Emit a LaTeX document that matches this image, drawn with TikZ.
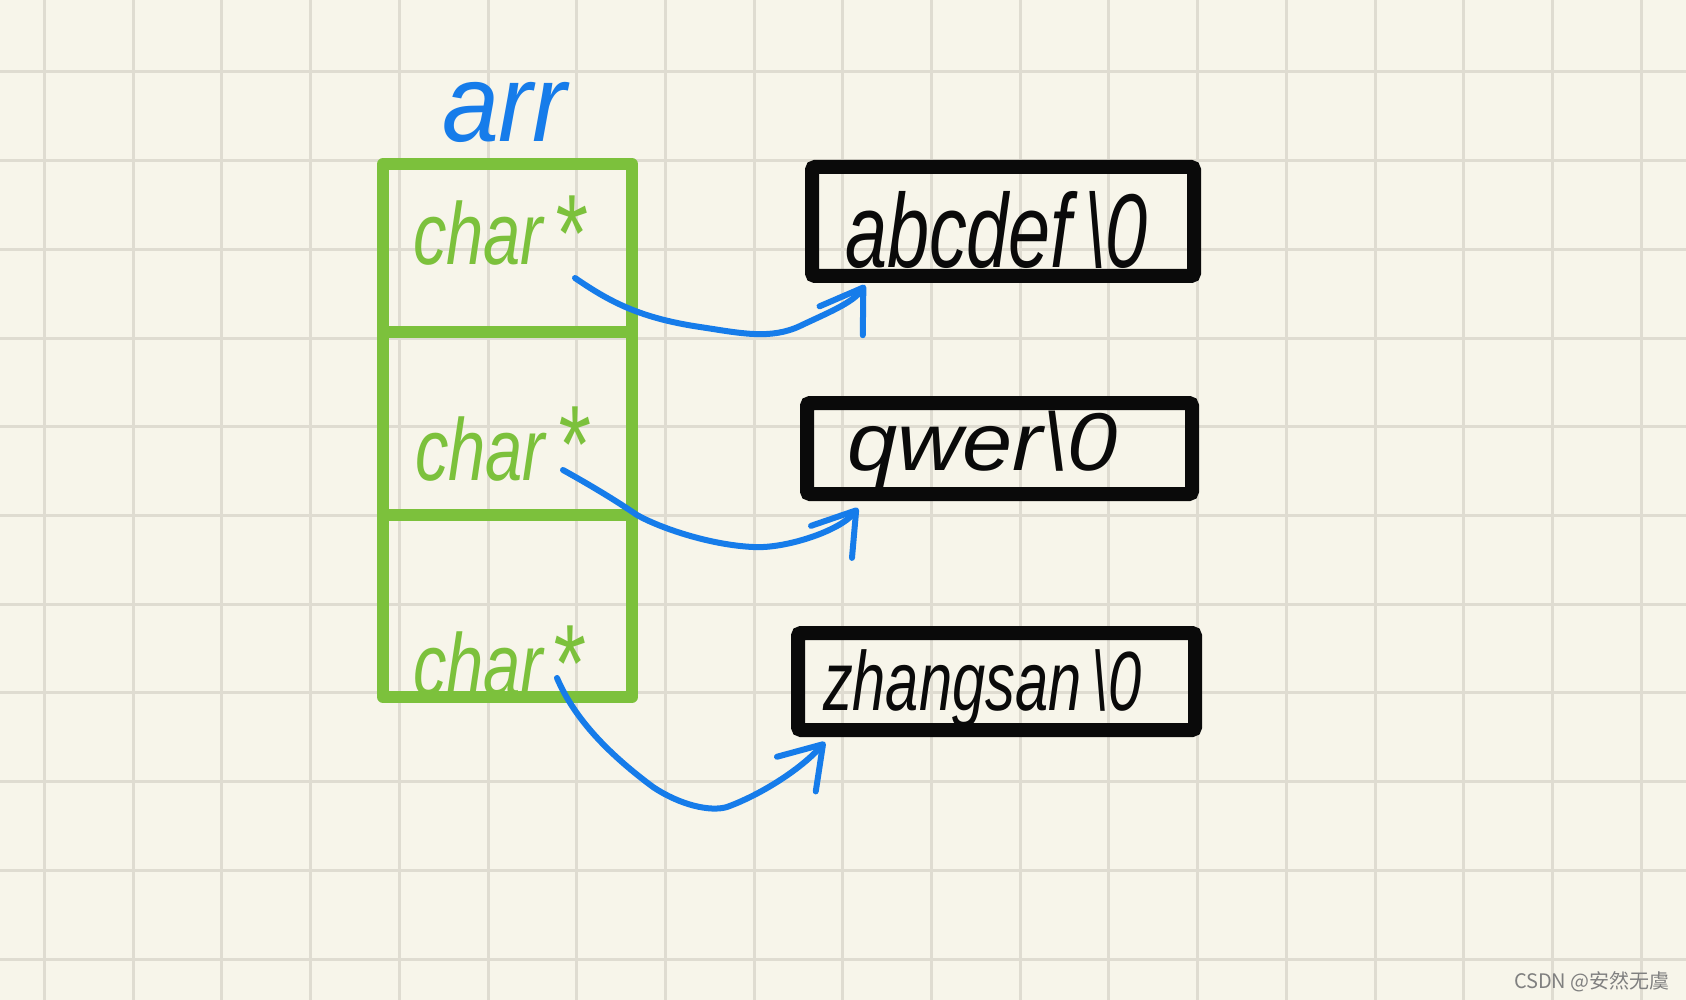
\documentclass[tikz,border=0pt]{standalone}
\usepackage{fontspec}
\usepackage{graphicx}
\setmainfont{Liberation Sans}
\newfontfamily\hand{Liberation Sans}
\newfontfamily\cjkfont{Noto Sans CJK SC}
\usetikzlibrary{arrows.meta,calc}
\definecolor{paper}{HTML}{F7F5EA}
\definecolor{gridc}{HTML}{DFDCD1}
\definecolor{greenc}{RGB}{124,193,60}
\definecolor{bluec}{RGB}{22,124,234}
\definecolor{inkc}{HTML}{0A0A0A}
\definecolor{wmc}{HTML}{808080}
\tikzset{
  gridline/.style={draw=gridc, line width=3pt},
  cellbox/.style={rectangle, draw=greenc, line width=12pt, minimum width=249pt, inner sep=0pt, outer sep=0pt, line join=round},
  strbox/.style={rectangle, draw=inkc, line width=14pt, inner sep=0pt, outer sep=0pt, rounded corners=3pt},
  handtxt/.style={inner sep=0pt, outer sep=0pt, anchor=base west, font=\hand\itshape},
  ptr/.style={draw=bluec, line width=6pt, line cap=round, line join=round, -{Straight Barb[length=40pt,width=52pt,round]}},
}
\begin{document}
\begin{tikzpicture}[x=1pt,y=-1pt]
\useasboundingbox (0,0) rectangle (1686,1000);
\fill[paper] (0,0) rectangle (1686,1000);
\foreach \i in {0,...,18} \draw[gridline] ({44.5+88.7*\i},0) -- ({44.5+88.7*\i},1000);
\foreach \j in {0,...,10} \draw[gridline] (0,{72+88.7*\j}) -- (1686,{72+88.7*\j});

% array of pointers
\node[cellbox, minimum height=168pt] (c1) at (507.5,248) {};
\node[cellbox, minimum height=183pt] (c2) at (507.5,423.5) {};
\node[cellbox, minimum height=182pt] (c3) at (507.5,606) {};

\node[handtxt, text=bluec] (arr) at (442,142) {\fontsize{110}{110}\selectfont\scalebox{0.93}[1]{arr}};
\node[handtxt, text=greenc] (ch1) at (413,265) {\fontsize{88}{88}\selectfont\scalebox{0.76}[1]{char\kern12pt\raisebox{-6pt}{\scalebox{1.25}{*}}}};
\node[handtxt, text=greenc] (ch2) at (415,480) {\fontsize{88}{88}\selectfont\scalebox{0.76}[1]{char\kern14pt\raisebox{-2pt}{\scalebox{1.25}{*}}}};
\node[handtxt, text=greenc] (ch3) at (413,695) {\fontsize{88}{88}\selectfont\scalebox{0.76}[1]{char\kern10pt\raisebox{-6pt}{\scalebox{1.25}{*}}}};

% strings
\node[strbox, minimum width=382pt, minimum height=109pt] (b1) at (1003,221.5) {};
\node[strbox, minimum width=385pt, minimum height=91pt] (b2) at (999.5,448.5) {};
\node[strbox, minimum width=397pt, minimum height=97pt] (b3) at (996.5,681.5) {};

\node[handtxt, text=inkc] (t1) at (845,268) {\fontsize{105}{105}\selectfont\scalebox{0.72}[1]{abcdef\,\textbackslash 0}};
\node[handtxt, text=inkc] (t2) at (847,470) {\fontsize{82}{82}\selectfont\scalebox{1.1}[1]{qwer\textbackslash 0}};
\node[handtxt, text=inkc] (t3) at (823,710) {\fontsize{84}{84}\selectfont\scalebox{0.71}[1]{zhangsan\,\textbackslash 0}};

% pointers
\coordinate (s1) at (575,278);
\coordinate (s2) at (563,470);
\coordinate (s3) at (557,678);
\coordinate (e1) at ($(b1.south west)+(53,9)$);
\coordinate (e2) at ($(b2.south west)+(51,14)$);
\coordinate (e3) at ($(b3.south west)+(27,12)$);

\draw[ptr] (s1) .. controls (610,302) and (640,318) .. (700,327)
  .. controls (740,333) and (770,340) .. (800,326)
  .. controls (825,314) and (853,303) .. (e1);
\draw[ptr] (s2) .. controls (590,485) and (615,500) .. (637,515)
  .. controls (660,528) and (710,545) .. (753,547)
  .. controls (785,549) and (840,531) .. (e2);
\draw[ptr] (s3) .. controls (575,720) and (610,755) .. (653,787)
  .. controls (680,805) and (710,812) .. (727,807)
  .. controls (760,795) and (800,770) .. (e3);

\node[anchor=base east, inner sep=0pt, text=wmc, font=\cjkfont\fontsize{20}{20}\selectfont] (wm) at (1670,988) {CSDN @安然无虞};
\end{tikzpicture}
\end{document}
